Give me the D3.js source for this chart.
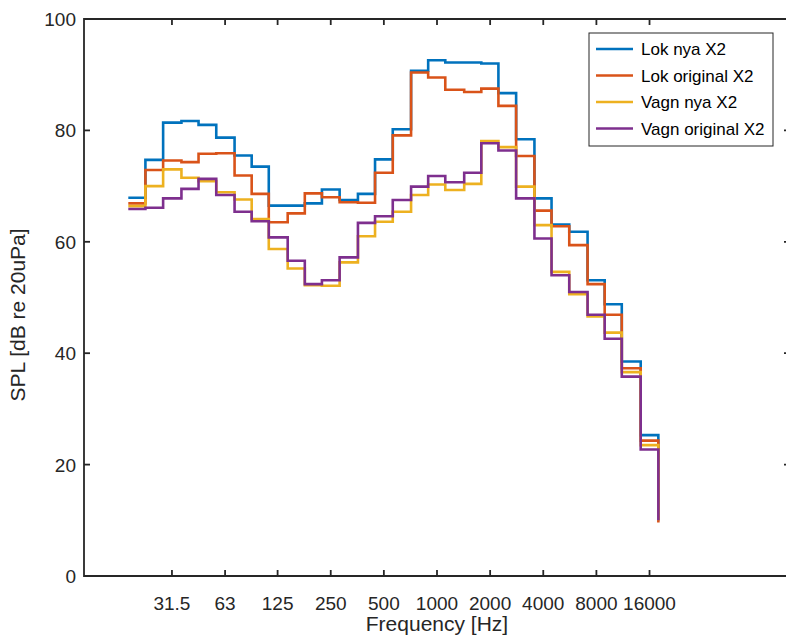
<!DOCTYPE html>
<html>
<head>
<meta charset="utf-8">
<script src="https://cdn.jsdelivr.net/npm/d3@7"></script>
<style>
  html, body { margin: 0; padding: 0; background: #fff; }
  svg { display: block; font-family: "Liberation Sans", Arial, Helvetica, sans-serif; }
</style>
</head>
<body>
<svg id="chart" width="786" height="635"></svg>
<script>
// 1/3-octave band centre frequencies (Hz)
const bands = [20, 25, 31.5, 40, 50, 63, 80, 100, 125, 160, 200, 250, 315, 400, 500, 630,
               800, 1000, 1250, 1600, 2000, 2500, 3150, 4000, 5000, 6300, 8000, 10000, 12500, 16000];

// SPL per band (dB re 20uPa); last entry is the end point of the stairs
const lokNya = [67.9, 74.7, 81.4, 81.7, 81.0, 78.7, 75.5, 73.5, 66.5, 66.5, 66.9, 69.4, 67.5, 68.6, 74.8, 80.2,
                90.7, 92.6, 92.2, 92.2, 92.0, 86.7, 78.4, 67.8, 63.1, 61.8, 53.1, 48.8, 38.5, 25.3, 10.0];
const lokOriginal = [66.9, 72.9, 74.6, 74.3, 75.8, 75.9, 71.9, 68.6, 63.5, 65.1, 68.7, 68.0, 67.1, 67.0, 72.4, 79.1,
                     90.4, 89.5, 87.3, 86.9, 87.5, 84.4, 75.4, 65.6, 62.8, 59.4, 52.4, 46.9, 37.3, 24.3, 9.6];
const vagnNya = [66.4, 70.0, 73.0, 71.5, 70.9, 68.9, 67.6, 64.1, 58.7, 55.2, 52.2, 52.1, 56.3, 61.0, 63.6, 65.4,
                 68.4, 70.3, 69.3, 70.4, 78.1, 77.0, 69.9, 63.0, 54.6, 50.6, 46.6, 43.7, 36.6, 23.5, 10.0];
const vagnOriginal = [65.9, 66.1, 67.8, 69.5, 71.3, 68.4, 65.4, 63.7, 60.8, 56.6, 52.4, 53.1, 57.2, 63.4, 64.6, 67.5,
                      69.9, 71.8, 70.7, 72.4, 77.7, 76.4, 67.8, 60.6, 54.0, 51.0, 46.9, 42.6, 35.8, 22.7, 10.0];

const seriesNames = ["Lok nya X2", "Lok original X2", "Vagn nya X2", "Vagn original X2"];
const seriesColors = ["#0072BD", "#D95319", "#EDB120", "#7E2F8E"];
const seriesValues = [lokNya, lokOriginal, vagnNya, vagnOriginal];

const xTicks = [31.5, 63, 125, 250, 500, 1000, 2000, 4000, 8000, 16000];
const xTickLabels = ["31.5", "63", "125", "250", "500", "1000", "2000", "4000", "8000", "16000"];
const yTicks = [0, 20, 40, 60, 80, 100];

const svg = d3.select("#chart");
const L = 84, R = 790, T = 19, B = 576;
const axisColor = "#262626";

const x = d3.scaleLog().domain([10, 100000]).range([L, R]);
const y = d3.scaleLinear().domain([0, 100]).range([B, T]);

// stairs x positions: lower band edges, plus upper edge of last band
const half = Math.pow(10, 0.05);
const edges = bands.map(f => f / half).concat([bands[bands.length - 1] * half]);

const line = d3.line().x(d => d[0]).y(d => d[1]).curve(d3.curveStepAfter);

seriesValues.forEach((vals, i) => {
  const pts = vals.map((v, k) => [x(edges[k]), y(v)]);
  svg.append("path")
    .attr("d", line(pts))
    .attr("fill", "none")
    .attr("stroke", seriesColors[i])
    .attr("stroke-width", 2.6)
    .attr("stroke-linejoin", "miter");
});

// axes
const tickLen = 6;
const fr = svg.append("g").attr("stroke", axisColor).attr("stroke-width", 1.8).attr("fill", "none");
fr.append("path").attr("d", `M${L},${T}H${R}V${B}H${L}Z`);

xTicks.forEach((t, i) => {
  const px = x(t);
  fr.append("line").attr("x1", px).attr("x2", px).attr("y1", B).attr("y2", B - tickLen);
  fr.append("line").attr("x1", px).attr("x2", px).attr("y1", T).attr("y2", T + tickLen);
  svg.append("text").attr("x", px).attr("y", B + 34)
    .attr("text-anchor", "middle").attr("font-size", 19).attr("fill", axisColor)
    .text(xTickLabels[i]);
});
yTicks.forEach(t => {
  const py = y(t);
  fr.append("line").attr("x1", L).attr("x2", L + tickLen).attr("y1", py).attr("y2", py);
  fr.append("line").attr("x1", R).attr("x2", R - tickLen).attr("y1", py).attr("y2", py);
  svg.append("text").attr("x", L - 8).attr("y", py + 7)
    .attr("text-anchor", "end").attr("font-size", 19).attr("fill", axisColor)
    .text(t);
});

svg.append("text").attr("x", 437).attr("y", 631)
  .attr("text-anchor", "middle").attr("font-size", 21).attr("fill", axisColor)
  .text("Frequency [Hz]");
svg.append("text").attr("transform", "translate(25,315) rotate(-90)")
  .attr("text-anchor", "middle").attr("font-size", 21).attr("fill", axisColor)
  .text("SPL [dB re 20uPa]");

// legend
const lg = svg.append("g");
lg.append("rect").attr("x", 589).attr("y", 33).attr("width", 184).attr("height", 113)
  .attr("fill", "#fff").attr("stroke", axisColor).attr("stroke-width", 1);
const rowsY = [49, 75.5, 102, 128.5];
seriesNames.forEach((n, i) => {
  lg.append("line").attr("x1", 596).attr("x2", 633).attr("y1", rowsY[i]).attr("y2", rowsY[i])
    .attr("stroke", seriesColors[i]).attr("stroke-width", 2.6);
  lg.append("text").attr("x", 641).attr("y", rowsY[i] + 6).attr("font-size", 17).attr("fill", "#000")
    .text(n);
});
</script>
</body>
</html>
